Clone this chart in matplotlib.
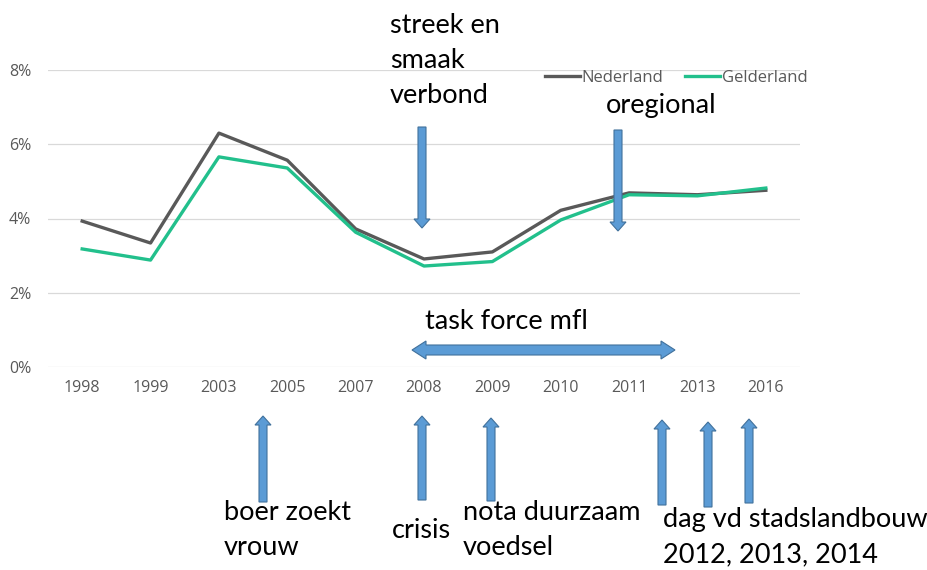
import numpy as np
import matplotlib.pyplot as plt
from matplotlib.patches import FancyArrow, Polygon

years = ["1998", "1999", "2003", "2005", "2007", "2008", "2009", "2010", "2011", "2013", "2016"]
nederland = [3.93, 3.34, 6.30, 5.57, 3.72, 2.91, 3.10, 4.22, 4.69, 4.64, 4.76]
gelderland = [3.18, 2.88, 5.66, 5.36, 3.63, 2.72, 2.84, 3.96, 4.64, 4.61, 4.82]

W, H = 927, 570
fig = plt.figure(figsize=[W / 100, H / 100], dpi=100)
ax = fig.add_axes([48 / W, 1 - 367 / H, (800 - 48) / W, (367 - 70) / H])

x = np.arange(len(years))
ax.plot(x, nederland, color='#595959', lw=2.4, label="Nederland", solid_joinstyle='round')
ax.plot(x, gelderland, color='#22C08C', lw=2.4, label="Gelderland", solid_joinstyle='round')

ax.set_xlim(-0.5, len(years) - 0.5)
ax.set_ylim(0, 8)
ax.set_yticks([0, 2, 4, 6, 8])
ax.set_yticklabels([f"{v}%" for v in [0, 2, 4, 6, 8]], fontfamily='Open Sans', fontsize=11.5)
ax.set_xticks(x)
ax.set_xticklabels(years, fontfamily='Open Sans', fontsize=11.5)
ax.tick_params(length=0, labelcolor='#595959', pad=12)
ax.tick_params(axis='x', pad=9)
ax.grid(axis='y', color='#D9D9D9', lw=0.9)
ax.set_axisbelow(True)
for s in ax.spines.values():
    s.set_visible(False)

fig.legend(loc='center', bbox_to_anchor=(676 / W, 1 - 78 / H), ncol=2, frameon=False,
           handlelength=2.1, handletextpad=0.1, columnspacing=1.3,
           prop={'family': 'Open Sans', 'size': 12}, labelcolor='#595959')

# overlay in pixel units for the annotations
ov = fig.add_axes([0, 0, 1, 1], zorder=5)
ov.set_xlim(0, W)
ov.set_ylim(H, 0)
ov.axis('off')

fc, ec = '#5B9BD5', '#41719C'
def block_arrow(x0, y0, x1, y1):
    ov.add_patch(FancyArrow(x0, y0, x1 - x0, y1 - y0, width=8, head_width=16, head_length=9,
                            length_includes_head=True, fc=fc, ec=ec, lw=0.8))

# down arrows
block_arrow(422, 127, 422, 228)
block_arrow(618, 130, 618, 231)
# up arrows
for xa, yb, yt in [(263, 502, 416), (422, 500, 416), (491, 501, 418),
                   (662, 505, 420), (708, 507, 422), (749, 503, 419)]:
    block_arrow(xa, yb, xa, yt)

# double arrow task force
x0, x1, yc, hs, hh, hl = 412, 675, 350, 5, 9, 14
ov.add_patch(Polygon([(x0, yc), (x0 + hl, yc - hh), (x0 + hl, yc - hs), (x1 - hl, yc - hs),
                      (x1 - hl, yc - hh), (x1, yc), (x1 - hl, yc + hh), (x1 - hl, yc + hs),
                      (x0 + hl, yc + hs), (x0 + hl, yc + hh)], closed=True, fc=fc, ec=ec, lw=0.8))

tk = dict(family='Lato', fontsize=19.5, color='black', va='baseline', ha='left')
def label(xl, yl, lines):
    for i, s in enumerate(lines):
        ov.text(xl, yl + 35 * i, s, **tk)

label(390, 33, ["streek en", "smaak", "verbond"])
label(606, 113, ["oregional"])
label(425, 329, ["task force mfl"])
label(224, 520, ["boer zoekt", "vrouw"])
label(392, 538, ["crisis"])
label(463, 520, ["nota duurzaam", "voedsel"])
label(663, 527, ["dag vd stadslandbouw", "2012, 2013, 2014"])

fig.savefig("out.png", dpi=100)
